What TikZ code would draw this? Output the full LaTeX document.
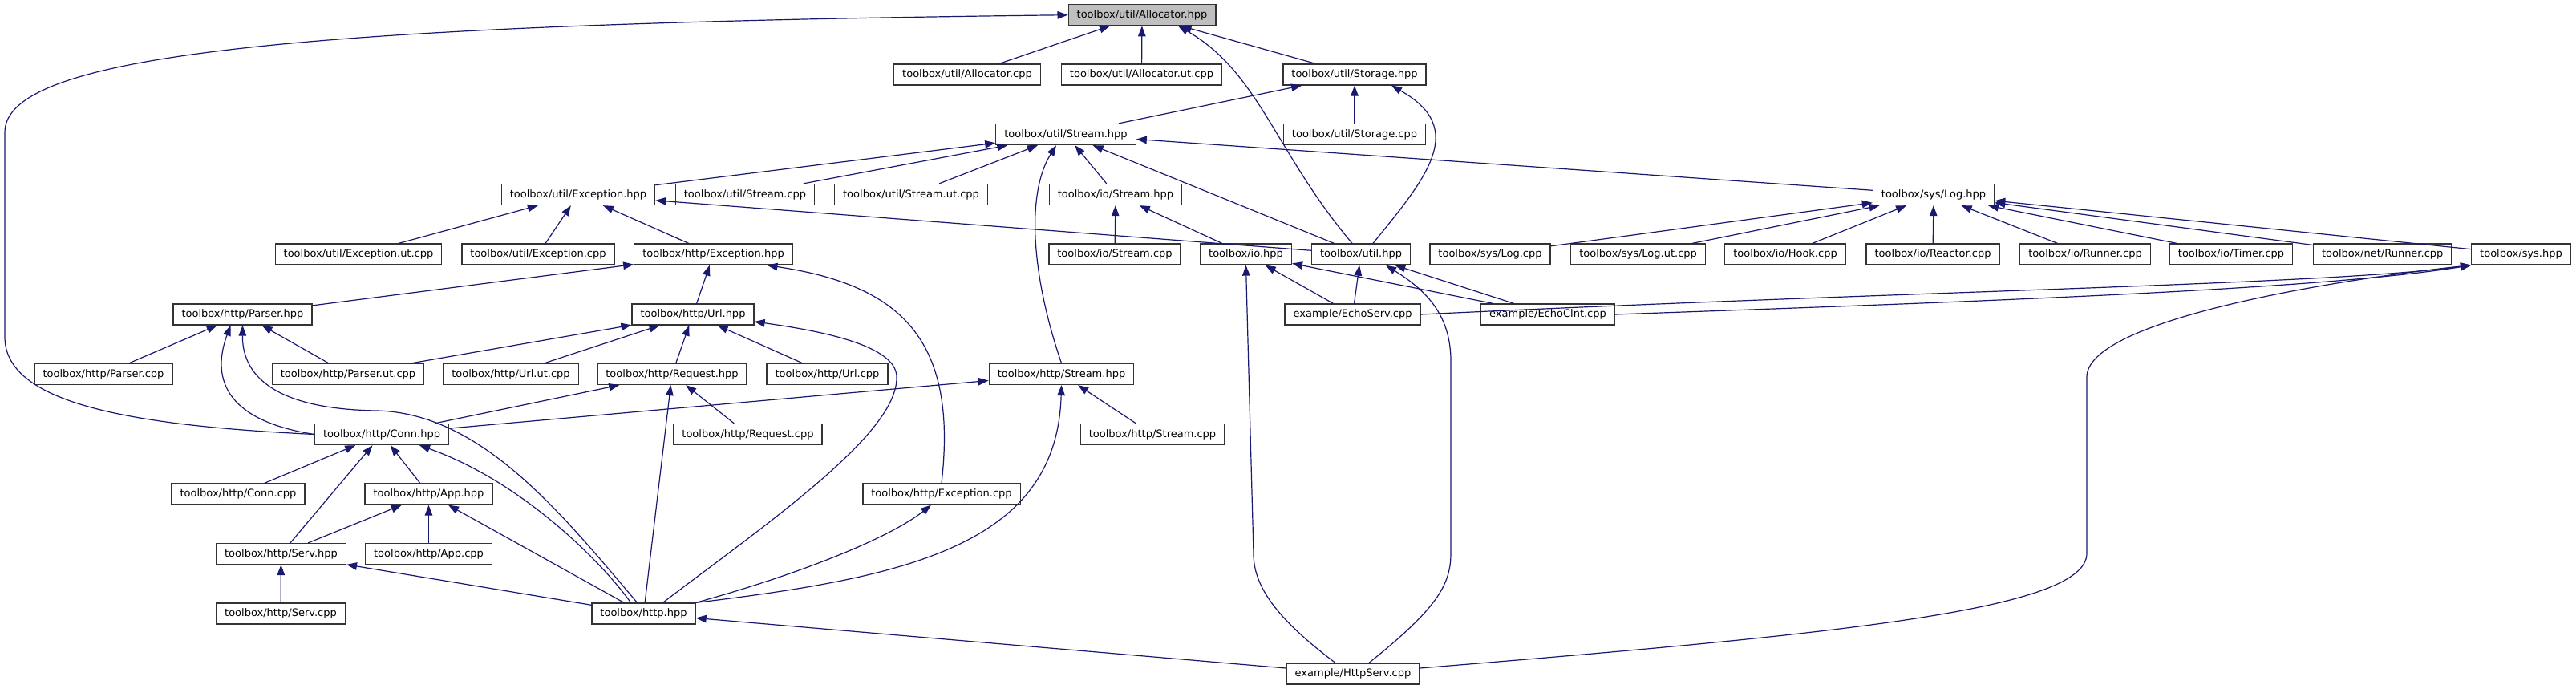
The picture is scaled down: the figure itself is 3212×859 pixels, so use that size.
\documentclass[tikz,border=0pt]{standalone}
\usepackage{fontspec}
\setmainfont{DejaVu Sans}
\usetikzlibrary{
  arrows.meta,             % filled triangle arrowheads
  calc                     % shifted anchors
}
\definecolor{edgeblue}{RGB}{25,25,112}
\definecolor{focusgray}{RGB}{191,191,191}

\begin{document}
\begin{tikzpicture}[
    x=1pt, y=-1pt,
    font=\fontsize{13pt}{15pt}\selectfont,
    >={Triangle[length=13pt, width=9.5pt]},
    filebox/.style={rectangle, draw=black!80, line width=1.3pt, fill=white,
                    inner xsep=10.5pt, inner ysep=0pt, minimum height=26pt},
    focusbox/.style={filebox, fill=focusgray},
    inc/.style={->, draw=edgeblue, line width=1.2pt}
]
  \useasboundingbox (0,0) rectangle (3212,859);

  % row 0 - 2
  \node[focusbox] (alloch)  at (1424,18.7) {toolbox/util/Allocator.hpp};
  \node[filebox]  (allocc)  at (1206,93)   {toolbox/util/Allocator.cpp};
  \node[filebox]  (allocut) at (1423.5,93) {toolbox/util/Allocator.ut.cpp};
  \node[filebox]  (storh)   at (1689,93)   {toolbox/util/Storage.hpp};
  \node[filebox]  (ustreamh) at (1329,167.5) {toolbox/util/Stream.hpp};
  \node[filebox]  (storc)   at (1689,167.5) {toolbox/util/Storage.cpp};

  % row 3
  \node[filebox] (uexch)     at (721,242.5)  {toolbox/util/Exception.hpp};
  \node[filebox] (ustreamc)  at (929,242.5)  {toolbox/util/Stream.cpp};
  \node[filebox] (ustreamut) at (1136,242.5) {toolbox/util/Stream.ut.cpp};
  \node[filebox] (iostreamh) at (1391,242.5) {toolbox/io/Stream.hpp};
  \node[filebox] (logh)      at (2411,242.5) {toolbox/sys/Log.hpp};

  % row 4
  \node[filebox] (uexcut)     at (447,317)    {toolbox/util/Exception.ut.cpp};
  \node[filebox] (uexcc)      at (671,317)    {toolbox/util/Exception.cpp};
  \node[filebox] (hexch)      at (889.5,317)  {toolbox/http/Exception.hpp};
  \node[filebox] (iostreamc)  at (1390,317)   {toolbox/io/Stream.cpp};
  \node[filebox] (ioh)        at (1553.5,317) {toolbox/io.hpp};
  \node[filebox] (utilh)      at (1697,317)   {toolbox/util.hpp};
  \node[filebox] (logc)       at (1858,317)   {toolbox/sys/Log.cpp};
  \node[filebox] (logut)      at (2042.6,317) {toolbox/sys/Log.ut.cpp};
  \node[filebox] (hookc)      at (2226,317)   {toolbox/io/Hook.cpp};
  \node[filebox] (reactorc)   at (2410,317)   {toolbox/io/Reactor.cpp};
  \node[filebox] (iorunnerc)  at (2600,317)   {toolbox/io/Runner.cpp};
  \node[filebox] (timerc)     at (2782,317)   {toolbox/io/Timer.cpp};
  \node[filebox] (netrunnerc) at (2970.7,317) {toolbox/net/Runner.cpp};
  \node[filebox] (sysh)       at (3143.5,317) {toolbox/sys.hpp};

  % row 5 - 6
  \node[filebox] (parserh)  at (302.5,392)  {toolbox/http/Parser.hpp};
  \node[filebox] (urlh)     at (864,392)    {toolbox/http/Url.hpp};
  \node[filebox] (echoserv) at (1686.6,392) {example/EchoServ.cpp};
  \node[filebox] (echoclnt) at (1930,392)   {example/EchoClnt.cpp};
  \node[filebox] (parserc)  at (129,466.5)    {toolbox/http/Parser.cpp};
  \node[filebox] (parserut) at (434,466.5)    {toolbox/http/Parser.ut.cpp};
  \node[filebox] (urlut)    at (637,466.5)    {toolbox/http/Url.ut.cpp};
  \node[filebox] (requesth) at (838,466.5)    {toolbox/http/Request.hpp};
  \node[filebox] (urlc)     at (1031.5,466.5) {toolbox/http/Url.cpp};
  \node[filebox] (hstreamh) at (1323.5,466.5) {toolbox/http/Stream.hpp};

  % row 7 - 11
  \node[filebox] (connh)    at (476,541.5)    {toolbox/http/Conn.hpp};
  \node[filebox] (requestc) at (932.5,541.5)  {toolbox/http/Request.cpp};
  \node[filebox] (hstreamc) at (1437,541.5)   {toolbox/http/Stream.cpp};
  \node[filebox] (connc)    at (297,616)      {toolbox/http/Conn.cpp};
  \node[filebox] (apph)     at (534.5,616)    {toolbox/http/App.hpp};
  \node[filebox] (hexcc)    at (1174,616)     {toolbox/http/Exception.cpp};
  \node[filebox] (servh)    at (350.5,690.5)  {toolbox/http/Serv.hpp};
  \node[filebox] (appc)     at (534.5,690.5)  {toolbox/http/App.cpp};
  \node[filebox] (servc)    at (350,765)      {toolbox/http/Serv.cpp};
  \node[filebox] (httph)    at (802.5,765)    {toolbox/http.hpp};
  \node[filebox] (httpserv) at (1687,840)     {example/HttpServ.cpp};

  % straight edges
  \draw[inc] (allocc)    -- (alloch);
  \draw[inc] (allocut)   -- (alloch);
  \draw[inc] (storh)     -- (alloch);
  \draw[inc] (ustreamh)  -- (storh);
  \draw[inc] (storc)     -- (storh);
  \draw[inc] (uexch)     -- (ustreamh);
  \draw[inc] (ustreamc)  -- (ustreamh);
  \draw[inc] (ustreamut) -- (ustreamh);
  \draw[inc] (iostreamh) -- (ustreamh);
  \draw[inc] (utilh)     -- (ustreamh);
  \draw[inc] (logh)      -- (ustreamh);
  \draw[inc] (uexcut)    -- (uexch);
  \draw[inc] (uexcc)     -- (uexch);
  \draw[inc] (hexch)     -- (uexch);
  \draw[inc] (utilh)     -- (uexch);
  \draw[inc] (iostreamc) -- (iostreamh);
  \draw[inc] (ioh)       -- (iostreamh);
  \draw[inc] (logc)       -- (logh);
  \draw[inc] (logut)      -- (logh);
  \draw[inc] (hookc)      -- (logh);
  \draw[inc] (reactorc)   -- (logh);
  \draw[inc] (iorunnerc)  -- (logh);
  \draw[inc] (timerc)     -- (logh);
  \draw[inc] (netrunnerc) -- (logh);
  \draw[inc] (sysh)       -- (logh);
  \draw[inc] (parserh)  -- (hexch);
  \draw[inc] (urlh)     -- (hexch);
  \draw[inc] (echoserv) -- (ioh);
  \draw[inc] (echoclnt) -- (ioh);
  \draw[inc] (echoserv) -- (utilh);
  \draw[inc] (echoclnt) -- (utilh);
  \draw[inc] (parserc)  -- (parserh);
  \draw[inc] (parserut) -- (parserh);
  \draw[inc] (parserut) -- (urlh);
  \draw[inc] (urlut)    -- (urlh);
  \draw[inc] (requesth) -- (urlh);
  \draw[inc] (urlc)     -- (urlh);
  \draw[inc] (connh)    -- (requesth);
  \draw[inc] (requestc) -- (requesth);
  \draw[inc] (httph)    -- (requesth);
  \draw[inc] (connh)    -- (hstreamh);
  \draw[inc] (hstreamc) -- (hstreamh);
  \draw[inc] (connc)    -- (connh);
  \draw[inc] (servh)    -- (connh);
  \draw[inc] (apph)     -- (connh);
  \draw[inc] (servh)    -- (apph);
  \draw[inc] (appc)     -- (apph);
  \draw[inc] (httph)    -- (apph);
  \draw[inc] (servc)    -- (servh);
  \draw[inc] (httph)    -- (servh);
  \draw[inc] (httpserv) -- (httph);

  % curved edges
  \draw[inc] (connh.west) .. controls (150,530) and (6,500) .. (6,420)
       -- (6,165) .. controls (6,70) and (350,30) .. (alloch.west);
  \draw[inc] ($(utilh.north)+(-11,0)$) .. controls (1590,190) and (1570,90)
       .. ($(alloch.south)+(45,0)$);
  \draw[inc] ($(utilh.north)+(15,0)$) .. controls (1780,220) and (1830,160)
       .. ($(storh.south)+(46,0)$);
  \draw[inc] (hstreamh.north) .. controls (1285,340) and (1280,240)
       .. ($(ustreamh.south)+(-12,0)$);
  \draw[inc] (connh.west) .. controls (285,525) and (262,475)
       .. ($(parserh.south)+(-15,0)$);
  \draw[inc] ($(httph.north)+(-8,0)$) .. controls (700,640) and (600,515) .. (470,512)
       .. controls (330,510) and (302,460) .. (parserh.south);
  \draw[inc] ($(httph.north)+(-16,0)$) .. controls (750,700) and (650,600)
       .. ($(connh.south)+(47,0)$);
  \draw[inc] ($(httph.north)+(24,0)$) .. controls (960,650) and (1120,540) .. (1118,470)
       .. controls (1118,430) and (1020,412) .. ($(urlh.east)+(0,9)$);
  \draw[inc] (httph.north east) .. controls (1130,720) and (1318,680) .. (hstreamh.south);
  \draw[inc] (httph.north east) .. controls (1000,715) and (1110,670)
       .. ($(hexcc.south)+(-13,0)$);
  \draw[inc] (hexcc.north) .. controls (1195,420) and (1120,355)
       .. ($(hexch.south)+(67,0)$);
  \draw[inc] ($(httpserv.north)+(20,0)$) .. controls (1790,760) and (1809,730) .. (1809,690)
       -- (1809,450) .. controls (1809,390) and (1775,360) .. ($(utilh.south)+(31,0)$);
  \draw[inc] ($(httpserv.north)+(-22,0)$) .. controls (1590,770) and (1563,730) .. (1563,690)
       -- (ioh.south);
  \draw[inc] ($(httpserv.east)+(0,-7)$) .. controls (2300,790) and (2602,760) .. (2602,690)
       -- (2602,470) .. controls (2602,400) and (2900,350) .. (sysh.south west);
  \draw[inc] (echoserv.east) .. controls (2400,362) and (2900,355) .. (sysh.south west);
  \draw[inc] (echoclnt.east) .. controls (2500,375) and (2900,360) .. (sysh.south west);
\end{tikzpicture}
\end{document}
